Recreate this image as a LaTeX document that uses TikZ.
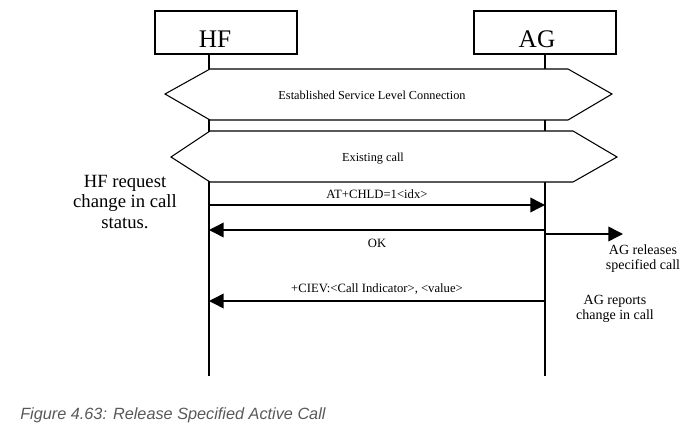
\documentclass[tikz,border=0pt]{standalone}
\usepackage{fontspec}
\setmainfont{Liberation Serif}
\newfontfamily\capfont{Liberation Sans}
\usetikzlibrary{arrows.meta}
\definecolor{capgray}{RGB}{89,89,89}
\tikzset{
  actor/.style={draw, line width=.8pt, minimum width=106.5pt, minimum height=32.25pt, inner sep=0pt},
  actorname/.style={font=\fontsize{19}{21}\selectfont, inner sep=0pt},
  lifeline/.style={line width=1.2pt},
  phase/.style={draw, fill=white, line width=.8pt},
  phasetext/.style={font=\fontsize{9.2}{11}\selectfont},
  msg/.style={line width=1.1pt, -{Triangle[length=11pt,width=11pt]}},
  msglabel/.style={font=\fontsize{9.5}{11}\selectfont, inner sep=4pt},
  note/.style={align=center, font=\fontsize{10.5}{11.3}\selectfont, inner sep=0pt},
}
\begin{document}
\begin{tikzpicture}[x=.75pt,y=-.75pt]
  \useasboundingbox (0,0) rectangle (684,442);
  \def\hfx{209}
  \def\agx{545}
  % actors
  \node[actor] (hfbox) at (226,32.5) {};
  \node[actor] (agbox) at (545,32.5) {};
  \node[actorname] (hfname) at (215,39) {HF};
  \node[actorname] (agname) at (537,39) {AG};
  \path
  (\hfx,54) coordinate (hftop) (\hfx,376) coordinate (hfend)
  (\agx,54) coordinate (agtop) (\agx,376) coordinate (agend)
  ;
  \draw[lifeline] (hftop)--(hfend) (agtop)--(agend);
  % phases
  \draw[phase] (210,69)--(568,69)--(612,94)--(568,120)--(210,120)--(165,94)--cycle;
  \node[phasetext] (slc) at (372,95) {Established Service Level Connection};
  \draw[phase] (210,131)--(573,131)--(617,157)--(573,182)--(210,182)--(171,157)--cycle;
  \node[phasetext] (call) at (373,159) {Existing call};
  % messages
  \foreach \y/\n in {205/1,230/2,301/4} \path (\hfx,\y) coordinate (hf\n) (\agx,\y) coordinate (ag\n);
  \path (\agx,234) coordinate (ag3) (623,234) coordinate (rel);
  \draw[msg] (hf1) -- node[msglabel,above] {AT+CHLD=1<idx>} (ag1);
  \draw[msg] (ag2) -- node[msglabel,below,yshift=-2pt] {OK} (hf2);
  \draw[msg] (ag3) -- (rel);
  \draw[msg] (ag4) -- node[msglabel,above] {+CIEV:<Call Indicator>, <value>} (hf4);
  % notes
  \node[note, font=\fontsize{14}{15.4}\selectfont] (hfnote) at (125,202) {HF request\\change in call\\status.};
  \node[note] (relnote) at (643,259) {AG releases\\specified call};
  \node[note] (repnote) at (615,309) {AG reports\\change in call};
  \node[anchor=west, inner sep=0pt, text=capgray, font=\capfont\itshape\fontsize{12.2}{14}\selectfont] (caption) at (20,415) {Figure 4.63: Release Specified Active Call};
\end{tikzpicture}
\end{document}
